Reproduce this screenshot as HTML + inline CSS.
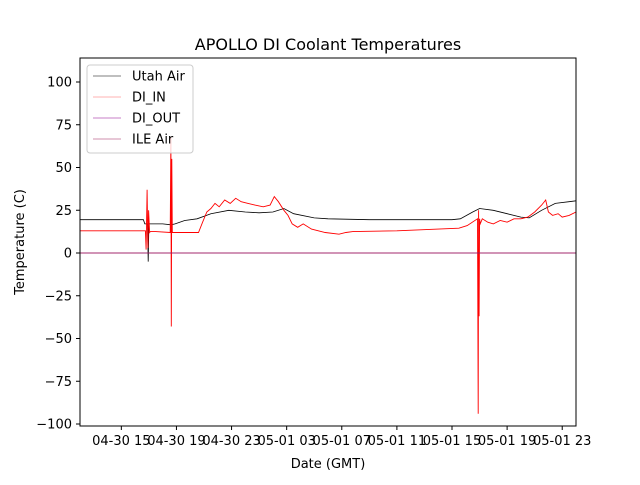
<!DOCTYPE html>
<html><head><meta charset="utf-8"><style>
body{margin:0;background:#fff;font-family:"Liberation Sans","DejaVu Sans",sans-serif}
svg text{font-family:"DejaVu Sans","Liberation Sans",sans-serif}
</style></head><body>
<svg id="c" width="640" height="480" xmlns="http://www.w3.org/2000/svg">
<rect width="640" height="480" fill="#fff"/>
<text x="328" y="50" text-anchor="middle" font-size="16">APOLLO DI Coolant Temperatures</text>
<g id="plot"></g>
<rect x="80" y="58" width="496" height="368" fill="none" stroke="#000" stroke-width="1"/>
<g id="axes"></g>
<text x="328" y="468" text-anchor="middle" font-size="13">Date (GMT)</text>
<text transform="translate(24,242) rotate(-90)" text-anchor="middle" font-size="13">Temperature (C)</text>
<g>
<rect x="87" y="65" width="106" height="88" rx="3" fill="#fff" fill-opacity="0.8" stroke="#ccc"/>
<g><line x1="93" x2="121" y1="76" y2="76" stroke="#000" stroke-width="0.6"/><text x="132" y="80.5" font-size="13">Utah Air</text></g>
<g><line x1="93" x2="121" y1="97" y2="97" stroke="#f66" stroke-width="0.5"/><text x="132" y="101.5" font-size="13">DI_IN</text></g>
<g><line x1="93" x2="121" y1="118" y2="118" stroke="#900090" stroke-width="0.6"/><text x="132" y="122.5" font-size="13">DI_OUT</text></g>
<g><line x1="93" x2="121" y1="139" y2="139" stroke="#a0205a" stroke-width="0.6"/><text x="132" y="143.5" font-size="13">ILE Air</text></g>
</g>
</svg>
<script>
const xTicks=[15,19,23,27,31,35,39,43,47];
const xTickLabels=["04-30 15","04-30 19","04-30 23","05-01 03","05-01 07","05-01 11","05-01 15","05-01 19","05-01 23"];
const yTicks=[100,75,50,25,0,-25,-50,-75,-100];
const utahHours=[12,13,14,15,16,16.6,16.7,16.9,16.95,17.0,17.3,18,18.6,18.9,19.6,20.5,21.5,22.8,24,25,26,26.8,27.5,29,30,33,36,39,39.6,40.5,41,42,43,44,44.6,45.5,46.5,47.5,48];
const utahAir=[19.5,19.5,19.5,19.5,19.5,19.5,17,17,-5,17,17,17,16.5,17,19,20,23,25,24,23.5,24,26,23,20.5,20,19.5,19.5,19.5,20,24,26,25,23,21,20.5,25,29,30,30.5];
const inHours=[12,14,16,16.75,16.8,16.87,16.93,16.98,17.05,17.1,17.5,18.55,18.6,18.63,18.66,18.7,20.6,20.9,21.2,21.5,21.8,22.1,22.5,22.9,23.3,23.7,24.2,24.7,25.3,25.8,26.1,26.4,26.8,27.1,27.4,27.8,28.2,28.8,29.8,30.8,31.3,31.8,35,38,39.5,40.1,40.85,40.9,40.93,40.97,41.0,41.05,41.2,41.6,42,42.5,43,43.5,44,44.5,45,45.5,45.8,46,46.3,46.7,47,47.5,48];
const diIn=[13,13,13,13,2,37,3,25,12,12.5,12.5,12,68,-43,55,12,12,18,24,26,29,27,31,29,32,30,29,28,27,28,33,30,25,22,17,15,17,14,12,11,12,12.5,13,14,14.5,16,20,-94,25,-37,20,17,20,18,17,19,18,20,20,21,24,28,31,24,22,23,21,22,24];
const outHours=[12,48];
const diOut=[0,0];
const ileAir=[0,0];
const sx=h=>80+(h-12)*(496/36);
const sy=v=>253-v*1.71;
const ns="http://www.w3.org/2000/svg";
const plot=document.getElementById('plot'),axes=document.getElementById('axes');
function line(xs,ys,col,w,name){
 const p=document.createElementNS(ns,'polyline');
 p.setAttribute('points',xs.map((h,i)=>sx(h).toFixed(1)+','+sy(ys[i]).toFixed(1)).join(' '));
 p.setAttribute('fill','none');p.setAttribute('stroke',col);p.setAttribute('stroke-width',w);
 
 
 plot.appendChild(p);
}
line(utahHours,utahAir,'#000',0.8,'series-utah-air');
line(inHours,diIn,'#f00',0.9,'series-di-in');
line(outHours,diOut,'#900090',0.8,'series-di-out');
line(outHours,ileAir,'#a0205a',0.8,'series-ile-air');
xTicks.forEach((t,i)=>{
 const x=sx(t);
 const l=document.createElementNS(ns,'line');
 l.setAttribute('x1',x);l.setAttribute('x2',x);l.setAttribute('y1',426);l.setAttribute('y2',430);l.setAttribute('stroke','#000');
 
 
 axes.appendChild(l);
 const tx=document.createElementNS(ns,'text');
 tx.setAttribute('x',x);tx.setAttribute('y',445);tx.setAttribute('text-anchor','middle');tx.setAttribute('font-size','13');
 tx.textContent=xTickLabels[i];
 
 
 axes.appendChild(tx);
});
yTicks.forEach(t=>{
 const y=sy(t);
 const l=document.createElementNS(ns,'line');
 l.setAttribute('x1',76);l.setAttribute('x2',80);l.setAttribute('y1',y);l.setAttribute('y2',y);l.setAttribute('stroke','#000');
 
 
 axes.appendChild(l);
 const tx=document.createElementNS(ns,'text');
 tx.setAttribute('x',72);tx.setAttribute('y',y+4.5);tx.setAttribute('text-anchor','end');tx.setAttribute('font-size','13');
 tx.textContent=String(t).replace('-','\u2212');
 
 
 axes.appendChild(tx);
});
</script>
</body></html>
